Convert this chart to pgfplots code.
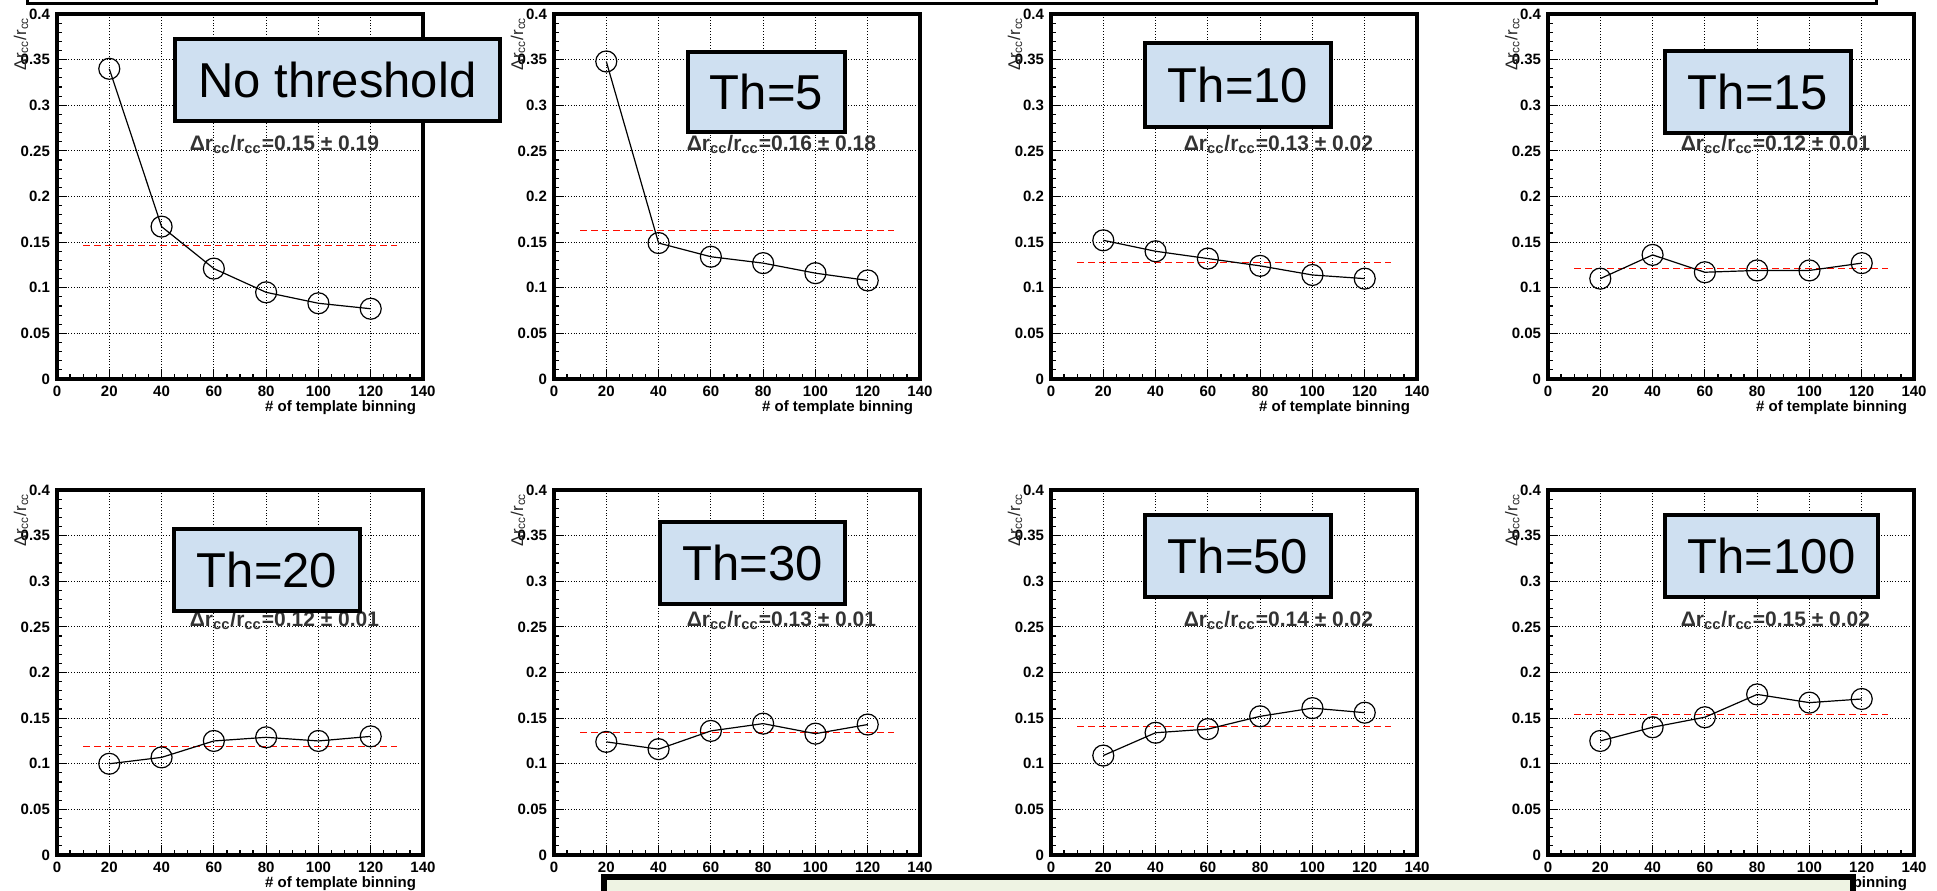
\documentclass[border=0pt]{standalone}
\usepackage{pgfplots}
\pgfplotsset{compat=1.18}
\usepackage{fontspec}
\setmainfont{Liberation Sans}
\definecolor{boxblue}{RGB}{207,224,241}
\definecolor{boxgreen}{RGB}{238,243,227}
\pgfplotsset{
 panel/.style={
  anchor=south west,
  scale only axis, width=183pt, height=182.5pt,
  xmin=0, xmax=140, ymin=0, ymax=0.4,
  xtick={0,20,40,60,80,100,120,140},
  ytick={0,0.05,0.1,0.15,0.2,0.25,0.3,0.35,0.4},
  yticklabels={0,0.05,0.1,0.15,0.2,0.25,0.3,0.35,0.4},
  minor x tick num=3, minor y tick num=4,
  tick pos=left, tick align=inside,
  major tick length=5pt, minor tick length=2.5pt,
  every tick/.style={black, line width=0.6pt},
  axis line style={line width=1.6pt},
  grid=major, grid style={densely dotted, black, line width=0.6pt},
  ticklabel style={font=\bfseries\fontsize{7.5}{7.5}\selectfont},
  /pgf/number format/assume math mode=true,
  clip=false,
 },
 dat/.style={black, line width=0.6pt, mark=o, mark size=5.25pt, mark options={solid, line width=0.6pt}},
 fitl/.style={red!90!orange, dash pattern=on 3.5pt off 2pt, line width=0.7pt, forget plot},
}
\newcommand{\ann}[1]{\node[font=\bfseries\fontsize{10.5}{10.5}\selectfont, text=black!80] at (axis cs:87,0.257) {Δr\textsubscript{cc}/r\textsubscript{cc}=#1};
\node[rotate=90, anchor=east, font=\fontsize{8.5}{8.5}\selectfont, text=black!85] at (rel axis cs:-0.098,1.011) {Δr\textsubscript{cc}/r\textsubscript{cc}};
\node[anchor=east, font=\bfseries\fontsize{7.5}{7.5}\selectfont] at (rel axis cs:1,-0.079) {\# of template binning};}
\tikzset{lab/.style={draw=black, line width=2pt, fill=boxblue, inner sep=0pt, minimum height=41pt, font=\fontsize{24.5}{24.5}\selectfont}}
\begin{document}
\begin{tikzpicture}
\useasboundingbox (0,0) rectangle (968.5pt,-445pt);
\draw[line width=1.5pt, fill=white] (13.5pt,10pt) rectangle (938.25pt,-1.5pt);
% row 1
\begin{axis}[panel, at={(28.5pt,-189.5pt)}]
\addplot[fitl] coordinates {(10,0.146)(130,0.146)};
\addplot[dat] coordinates {(20,0.340)(40,0.167)(60,0.121)(80,0.095)(100,0.083)(120,0.077)};
\ann{0.15 ± 0.19}
\end{axis}
\begin{axis}[panel, at={(277pt,-189.5pt)}]
\addplot[fitl] coordinates {(10,0.163)(130,0.163)};
\addplot[dat] coordinates {(20,0.348)(40,0.149)(60,0.134)(80,0.127)(100,0.116)(120,0.108)};
\ann{0.16 ± 0.18}
\end{axis}
\begin{axis}[panel, at={(525.5pt,-189.5pt)}]
\addplot[fitl] coordinates {(10,0.128)(130,0.128)};
\addplot[dat] coordinates {(20,0.152)(40,0.140)(60,0.132)(80,0.124)(100,0.114)(120,0.110)};
\ann{0.13 ± 0.02}
\end{axis}
\begin{axis}[panel, at={(774pt,-189.5pt)}]
\addplot[fitl] coordinates {(10,0.121)(130,0.121)};
\addplot[dat] coordinates {(20,0.110)(40,0.136)(60,0.117)(80,0.119)(100,0.119)(120,0.127)};
\ann{0.12 ± 0.01}
\end{axis}
% row 2
\begin{axis}[panel, at={(28.5pt,-427.5pt)}]
\addplot[fitl] coordinates {(10,0.119)(130,0.119)};
\addplot[dat] coordinates {(20,0.100)(40,0.107)(60,0.125)(80,0.129)(100,0.125)(120,0.130)};
\ann{0.12 ± 0.01}
\end{axis}
\begin{axis}[panel, at={(277pt,-427.5pt)}]
\addplot[fitl] coordinates {(10,0.134)(130,0.134)};
\addplot[dat] coordinates {(20,0.124)(40,0.116)(60,0.136)(80,0.144)(100,0.133)(120,0.143)};
\ann{0.13 ± 0.01}
\end{axis}
\begin{axis}[panel, at={(525.5pt,-427.5pt)}]
\addplot[fitl] coordinates {(10,0.141)(130,0.141)};
\addplot[dat] coordinates {(20,0.109)(40,0.134)(60,0.138)(80,0.152)(100,0.161)(120,0.156)};
\ann{0.14 ± 0.02}
\end{axis}
\begin{axis}[panel, at={(774pt,-427.5pt)}]
\addplot[fitl] coordinates {(10,0.154)(130,0.154)};
\addplot[dat] coordinates {(20,0.125)(40,0.140)(60,0.151)(80,0.176)(100,0.167)(120,0.171)};
\ann{0.15 ± 0.02}
\end{axis}
% label boxes
\node[lab, minimum width=162.5pt] at (168.75pt,-40pt) {No threshold};
\node[lab, minimum width=78.5pt, minimum height=40pt] at (383.25pt,-46pt) {Th=5};
\node[lab, minimum width=93pt, minimum height=42pt] at (619pt,-42.5pt) {Th=10};
\node[lab, minimum width=93pt] at (879pt,-46pt) {Th=15};
\node[lab, minimum width=93pt] at (133.5pt,-285pt) {Th=20};
\node[lab, minimum width=92.5pt] at (376.25pt,-281.5pt) {Th=30};
\node[lab, minimum width=93pt] at (619pt,-278pt) {Th=50};
\node[lab, minimum width=106.5pt] at (885.75pt,-278pt) {Th=100};
% bottom box
\draw[line width=3pt, fill=boxgreen] (302pt,-438.5pt) rectangle (926.5pt,-470pt);
\end{tikzpicture}
\end{document}
